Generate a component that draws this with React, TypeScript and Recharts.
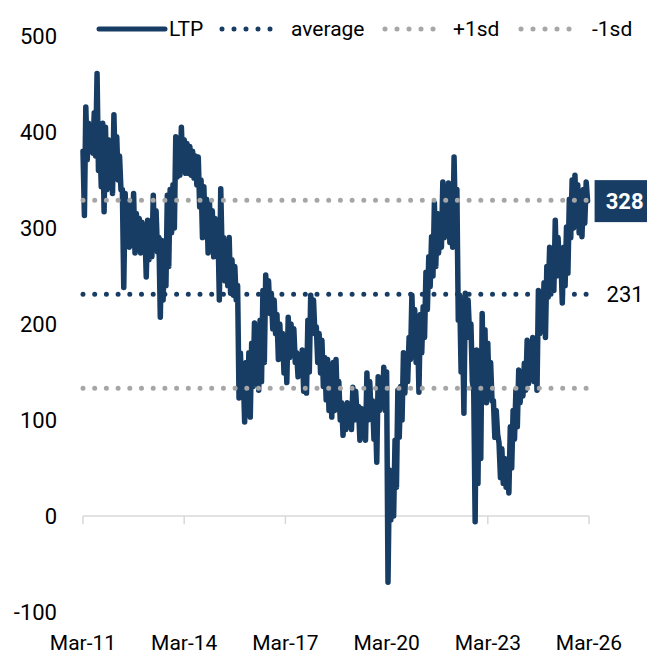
import React from 'react';
import { LineChart, Line, XAxis, YAxis, ReferenceLine, ReferenceDot, Legend } from 'recharts';

// Month index 0 = Mar-11
const xTickMonths = [0, 36, 72, 108, 144, 180];
const xTickLabels = ['Mar-11', 'Mar-14', 'Mar-17', 'Mar-20', 'Mar-23', 'Mar-26'];
const yTicks = [-100, 0, 100, 200, 300, 400, 500];

// Monthly high / low of the LTP series (Mar-11 .. Feb-26)
const ltpHigh = [
  380, 426, 409, 400, 420, 461, 388, 409, 405, 392, 385, 418, 395, 375, 340, 336, 325, 318, 336, 315,
  310, 306, 300, 308, 300, 334, 318, 290, 287, 280, 334, 340, 345, 395, 392, 405, 392, 388, 385, 380,
  375, 374, 350, 343, 330, 326, 318, 310, 300, 341, 290, 285, 290, 267, 260, 240, 170, 150, 160, 170,
  180, 201, 190, 204, 235, 251, 245, 232, 225, 210, 200, 190, 185, 207, 200, 195, 170, 168, 173, 165,
  204, 230, 225, 197, 190, 183, 165, 163, 150, 160, 163, 140, 118, 115, 118, 110, 134, 130, 114, 112,
  110, 149, 140, 120, 110, 145, 140, 155, 150, 48, 45, 79, 131, 135, 170, 168, 186, 230, 215, 200,
  210, 218, 254, 270, 291, 326, 315, 310, 348, 340, 347, 345, 374, 340, 230, 200, 232, 225, 200, 130,
  173, 165, 211, 194, 180, 160, 120, 110, 76, 70, 60, 55, 93, 110, 131, 152, 145, 159, 183, 175,
  186, 180, 235, 230, 243, 260, 280, 275, 308, 290, 267, 280, 301, 330, 350, 355, 345, 329, 340, 348,
];
const ltpLow = [
  313, 371, 381, 378, 375, 360, 343, 317, 340, 345, 336, 357, 350, 340, 238, 285, 280, 282, 274, 278,
  274, 280, 249, 267, 270, 280, 275, 207, 225, 240, 260, 295, 300, 353, 355, 360, 357, 357, 355, 352,
  345, 322, 290, 295, 274, 280, 270, 275, 225, 270, 245, 240, 232, 230, 225, 123, 128, 98, 110, 103,
  135, 140, 131, 140, 160, 215, 211, 195, 190, 163, 170, 149, 139, 165, 170, 160, 145, 148, 130, 128,
  150, 195, 190, 160, 149, 135, 121, 110, 103, 110, 115, 100, 84, 90, 95, 90, 100, 105, 79, 85,
  79, 100, 105, 80, 56, 110, 115, 110, -69, -4, 0, 30, 82, 100, 128, 140, 163, 180, 160, 129,
  170, 186, 215, 239, 250, 260, 274, 280, 290, 300, 285, 280, 300, 204, 150, 107, 186, 190, 140, -6,
  34, 60, 120, 118, 125, 120, 82, 85, 40, 34, 30, 24, 50, 80, 93, 118, 125, 131, 138, 145,
  140, 131, 190, 195, 186, 228, 240, 235, 250, 255, 222, 240, 253, 290, 300, 310, 295, 291, 305, 328,
];

const average = 231;
const plusOneSd = 329;
const minusOneSd = 133;
const lastValue = 328;

const data: { t: number; ltp: number }[] = [];
ltpHigh.forEach((h, i) => {
  data.push({ t: i, ltp: h });
  data.push({ t: i + 0.5, ltp: ltpLow[i] });
});
const lastT = data[data.length - 1].t;

const NAVY = '#183d65';
const GRAY = '#a6a6a6';
const AXIS = '#d9d9d9';
const FONT = 'Roboto, sans-serif';

const renderLegend = () => (
  <svg width={647} height={50} style={{ display: 'block' }}>
    <line x1={99} y1={29} x2={165} y2={29} stroke={NAVY} strokeWidth={5} strokeLinecap="round" />
    <text x={169} y={29} dominantBaseline="central" fontSize={21} fontFamily={FONT} fill="#000">LTP</text>
    <line x1={222} y1={29} x2={282} y2={29} stroke={NAVY} strokeWidth={5} strokeLinecap="round" strokeDasharray="0 12" />
    <text x={291} y={29} dominantBaseline="central" fontSize={21} fontFamily={FONT} fill="#000">average</text>
    <line x1={385} y1={29} x2={445} y2={29} stroke={GRAY} strokeWidth={5} strokeLinecap="round" strokeDasharray="0 12" />
    <text x={453} y={29} dominantBaseline="central" fontSize={21} fontFamily={FONT} fill="#000">+1sd</text>
    <line x1={521} y1={29} x2={581} y2={29} stroke={GRAY} strokeWidth={5} strokeLinecap="round" strokeDasharray="0 12" />
    <text x={592} y={29} dominantBaseline="central" fontSize={21} fontFamily={FONT} fill="#000">-1sd</text>
  </svg>
);

const LastBox = (props: any) => {
  const { cx, cy } = props;
  if (cx == null || cy == null) return null;
  return (
    <g>
      <rect x={cx + 7} y={cy - 21} width={60} height={42} fill={NAVY} />
      <text x={cx + 37} y={cy} textAnchor="middle" dominantBaseline="central" fontSize={22} fontWeight="bold" fontFamily={FONT} fill="#fff">
        {lastValue}
      </text>
    </g>
  );
};

const AvgLabel = (props: any) => {
  const { cx, cy } = props;
  if (cx == null || cy == null) return null;
  return (
    <text x={cx + 19} y={cy} dominantBaseline="central" fontSize={22} fontFamily={FONT} fill="#000">
      {average}
    </text>
  );
};

export default function App() {
  return (
    <div style={{ position: 'absolute', left: 0, top: 0, width: 647, height: 654, background: '#fff' }}>
      <LineChart width={647} height={654} data={data} margin={{ top: 36, right: 58, bottom: 0, left: 0 }}>
        <XAxis
          dataKey="t"
          type="number"
          domain={[0, 180]}
          ticks={xTickMonths}
          interval={0}
          tickFormatter={(v: number) => xTickLabels[xTickMonths.indexOf(v)]}
          axisLine={false}
          tickLine={false}
          tickSize={0}
          tickMargin={23}
          height={42}
          tick={{ fontSize: 21, fill: '#000', fontFamily: FONT }}
        />
        <YAxis
          type="number"
          domain={[-100, 500]}
          ticks={yTicks}
          interval={0}
          axisLine={false}
          tickLine={false}
          tickSize={0}
          tickMargin={26}
          width={83}
          tick={{ fontSize: 22, fill: '#000', fontFamily: FONT }}
        />
        <Legend layout="vertical" align="center" verticalAlign="middle" content={renderLegend}
          wrapperStyle={{ position: 'absolute', top: 0, left: 0, width: 647, height: 50 }} />
        <ReferenceLine y={0} stroke={AXIS} strokeWidth={1.5} />
        {xTickMonths.map((t) => (
          <ReferenceLine key={'tk' + t} segment={[{ x: t, y: 0 }, { x: t, y: -8.5 }]} stroke={AXIS} strokeWidth={1.5} />
        ))}
        <Line type="linear" dataKey="ltp" stroke={NAVY} strokeWidth={5.5} dot={false} isAnimationActive={false} strokeLinejoin="round" strokeLinecap="round" />
        <ReferenceLine segment={[{ x: 0, y: plusOneSd }, { x: lastT, y: plusOneSd }]} stroke={GRAY} strokeWidth={5} strokeLinecap="round" strokeDasharray="0 11.7" />
        <ReferenceLine segment={[{ x: 0, y: average }, { x: lastT, y: average }]} stroke={NAVY} strokeWidth={5} strokeLinecap="round" strokeDasharray="0 11.7" />
        <ReferenceLine segment={[{ x: 0, y: minusOneSd }, { x: lastT, y: minusOneSd }]} stroke={GRAY} strokeWidth={5} strokeLinecap="round" strokeDasharray="0 11.7" />
        <ReferenceDot x={lastT} y={lastValue} shape={LastBox} ifOverflow="visible" />
        <ReferenceDot x={lastT} y={average} shape={AvgLabel} ifOverflow="visible" />
      </LineChart>
    </div>
  );
}
